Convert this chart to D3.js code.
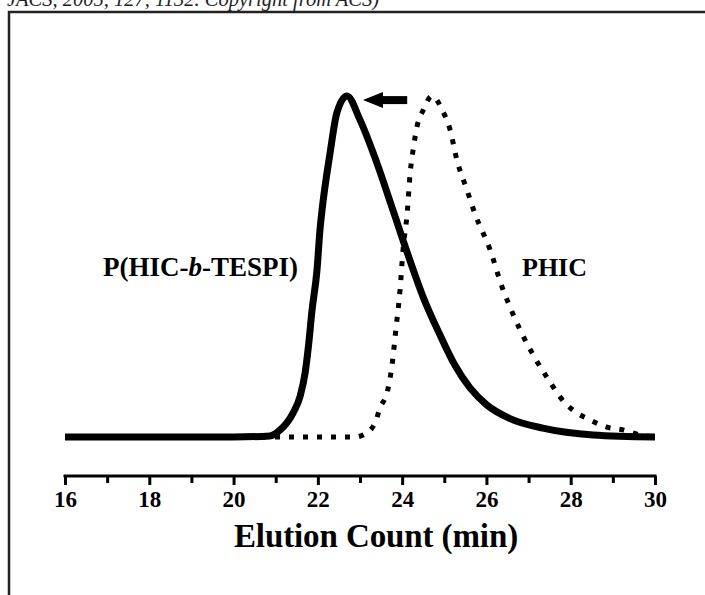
<!DOCTYPE html>
<html><head><meta charset="utf-8">
<script src="https://cdn.jsdelivr.net/npm/d3@7"></script>
<style>body{margin:0;background:#fff}svg{display:block}</style>
</head><body>
<script>
// Data
const majorTicks = [16, 18, 20, 22, 24, 26, 28, 30];
const minorTicks = [17, 19, 21, 23, 25, 27, 29];
const solidTime  = [16, 18, 20, 20.86, 21.10, 21.41, 21.58, 21.70, 21.78, 21.86, 21.98, 22.05, 22.10, 22.29, 22.45, 22.69, 23.0, 23.40, 23.78, 24.14, 24.50, 24.90, 25.25, 25.61, 26.01, 26.56, 27.34, 28.53, 30];
const solidValue = [0, 0, 0, 0.3, 2.0, 7.0, 12.0, 19.0, 27.0, 37.0, 49, 60.7, 66.6, 83.3, 95.0, 100, 93, 80.4, 66.6, 53.4, 41.0, 29.9, 21.1, 14.4, 9.4, 5.4, 2.6, 0.6, 0];
const dotTime  = [16, 20, 22.88, 23.07, 23.36, 23.47, 23.64, 23.76, 23.85, 23.95, 24.02, 24.12, 24.19, 24.26, 24.35, 24.50, 24.71, 24.95, 25.14, 25.30, 25.54, 25.73, 26.09, 26.37, 26.51, 26.80, 27.15, 27.51, 27.75, 28.05, 28.46, 28.86, 29.24, 29.64, 30];
const dotValue = [0, 0, 0, 0.6, 4.1, 8.5, 12.9, 21.1, 31.4, 43.1, 54.8, 65.7, 77.4, 84.2, 90.9, 95.9, 100, 95.9, 90.0, 81.2, 72.4, 65.4, 54.8, 44.0, 39.6, 31.4, 23.2, 16.1, 11.7, 7.9, 5.0, 2.9, 2.1, 0.6, 0];
const labels = ["P(HIC-", "b", "-TESPI)"];
const labelPHIC = "PHIC";
const xTitle = "Elution Count (min)";
const header = "JACS, 2005, 127, 1132. Copyright from ACS)";
const arrowFrom = [24.12, 98.8], arrowTo = [23.07, 98.8];

const W = 705, H = 595;
const svg = d3.select("body").append("svg").attr("width", W).attr("height", H);
svg.append("rect").attr("width", W).attr("height", H).attr("fill", "#fff");

// header text (partly above the top edge, as in the reference)
svg.append("text").attr("x", 7).attr("y", 6)
  .attr("font-family", "Liberation Serif, serif").attr("font-style", "italic")
  .attr("font-size", 20.5).attr("fill", "#222").text(header);

// frame
svg.append("rect").attr("x", 9).attr("y", 12).attr("width", 720).attr("height", 620)
  .attr("fill", "none").attr("stroke", "#222").attr("stroke-width", 2.5);

const x = d3.scaleLinear().domain([16, 30]).range([65, 655]);
const y = d3.scaleLinear().domain([0, 100]).range([437, 96]);

// axis
const axisY = 476;
const gx = svg.append("g").attr("transform", `translate(0,${axisY})`)
  .call(d3.axisBottom(x).tickValues(majorTicks).tickSize(9).tickSizeOuter(0).tickFormat(d3.format("d")));
gx.select(".domain").attr("stroke", "#000").attr("stroke-width", 3).attr("d", `M${x(16)-1.5},0H${x(30)+1.5}`);
gx.selectAll(".tick line").attr("stroke", "#000").attr("stroke-width", 3);
gx.selectAll(".tick text").attr("font-family", "Liberation Serif, serif").attr("font-weight", "bold")
  .attr("font-size", 23).attr("fill", "#000").attr("dy", 0).attr("y", 31);
const gm = svg.append("g").attr("transform", `translate(0,${axisY})`)
  .call(d3.axisBottom(x).tickValues(minorTicks).tickSize(7).tickFormat(""));
gm.select(".domain").remove();
gm.selectAll(".tick line").attr("stroke", "#000").attr("stroke-width", 3);

svg.append("text").attr("x", 376).attr("y", 547).attr("text-anchor", "middle")
  .attr("font-family", "Liberation Serif, serif").attr("font-weight", "bold")
  .attr("font-size", 33).attr("letter-spacing", -0.1).attr("fill", "#000").text(xTitle);

const line = d3.line().x(d => x(d[0])).y(d => y(d[1])).curve(d3.curveMonotoneX);

svg.append("path").datum(dotTime.map((t, i) => [t, dotValue[i]]))
  .attr("d", line).attr("fill", "none").attr("stroke", "#000")
  .attr("stroke-width", 5).attr("stroke-dasharray", "5,9");

svg.append("path").datum(solidTime.map((t, i) => [t, solidValue[i]]))
  .attr("d", line).attr("fill", "none").attr("stroke", "#000")
  .attr("stroke-width", 7).attr("stroke-linejoin", "round");

// arrow
svg.append("line").attr("x1", x(arrowFrom[0])).attr("y1", y(arrowFrom[1]))
  .attr("x2", x(arrowTo[0]) + 14).attr("y2", y(arrowTo[1]))
  .attr("stroke", "#000").attr("stroke-width", 8);
const tx = x(arrowTo[0]), ty = y(arrowTo[1]);
svg.append("path").attr("d", `M${tx},${ty}L${tx + 20},${ty - 8}L${tx + 20},${ty + 8}Z`).attr("fill", "#000");

// labels
const lt = svg.append("text").attr("x", 103).attr("y", 276)
  .attr("font-family", "Liberation Serif, serif").attr("font-weight", "bold")
  .attr("font-size", 27).attr("fill", "#000");
lt.append("tspan").text(labels[0]);
lt.append("tspan").attr("font-style", "italic").text(labels[1]);
lt.append("tspan").text(labels[2]);

svg.append("text").attr("x", 522).attr("y", 276)
  .attr("font-family", "Liberation Serif, serif").attr("font-weight", "bold")
  .attr("font-size", 26).attr("fill", "#000").text(labelPHIC);
</script>
</body></html>
